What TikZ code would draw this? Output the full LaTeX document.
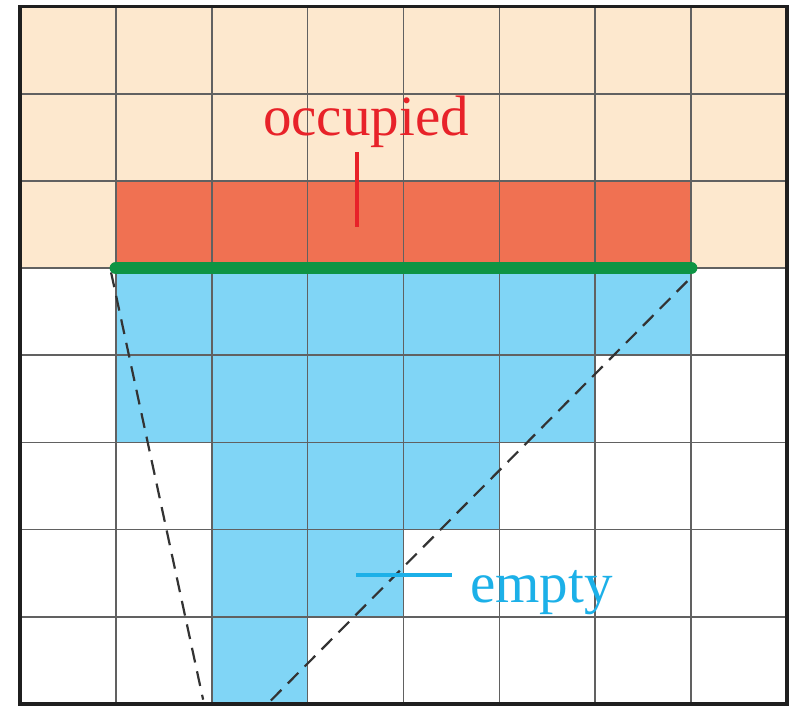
\documentclass[tikz,border=0pt]{standalone}
\usepackage{fontspec}
\setmainfont{Liberation Serif}
\definecolor{peach}{HTML}{FDE8CE}
\definecolor{occfill}{HTML}{F07152}
\definecolor{empfill}{HTML}{80D5F6}
\definecolor{grn}{HTML}{0E9444}
\definecolor{redtxt}{HTML}{E82229}
\definecolor{cyantxt}{HTML}{1CB0E8}
\tikzset{
  gridline/.style={draw=black!62, line width=1.7pt},
  frameline/.style={draw=black!88, line width=3.5pt},
  boundary/.style={draw=grn, line width=12.5pt, line cap=round},
  ray/.style={draw=black!80, line width=2.2pt, dash pattern=on 15pt off 9pt},
  lbl/.style={font=\fontsize{57}{60}\selectfont, inner sep=0pt, anchor=base},
}
\begin{document}
\begin{tikzpicture}[x=1pt,y=-1pt]
\useasboundingbox (0,0) rectangle (794,707);
\begin{scope}[shift={(20,6.5)}, x=95.875pt, y=-87.1875pt]
  % fills
  \fill[peach] (0,0) rectangle (8,3);
  \fill[occfill] (1,2) rectangle (7,3);
  \fill[empfill] (1,3) rectangle (7,4);
  \fill[empfill] (1,4) rectangle (6,5);
  \fill[empfill] (2,5) rectangle (5,6);
  \fill[empfill] (2,6) rectangle (4,7);
  \fill[empfill] (2,7) rectangle (3,8);
  % grid
  \foreach \i in {1,...,7} {
    \draw[gridline] (\i,0) -- (\i,8);
    \draw[gridline] (0,\i) -- (8,\i);
  }
  % rays
  \coordinate (la) at (0.95,3.05);
  \coordinate (lb) at (1.91,7.95);
  \coordinate (ra) at (6.96,3.15);
  \coordinate (rb) at (2.58,8);
  \draw[ray] (la) -- (lb);
  \draw[ray] (ra) -- (rb);
  % boundary
  \coordinate (ga) at (1,3);
  \coordinate (gb) at (7,3);
  \draw[boundary] (ga) -- (gb);
  % frame
  \draw[frameline] (0,0) rectangle (8,8);
\end{scope}
% labels
\node[lbl, text=redtxt] (occ) at (366,135) {occupied};
\coordinate (occT) at (357,152);
\coordinate (occB) at (357,227);
\draw[redtxt, line width=4pt] (occT) -- (occB);
\node[lbl, text=cyantxt, anchor=base west] (emp) at (470,602) {empty};
\coordinate (empL) at (356,575);
\coordinate (empR) at (452,575);
\draw[cyantxt, line width=4pt] (empL) -- (empR);
\end{tikzpicture}
\end{document}
